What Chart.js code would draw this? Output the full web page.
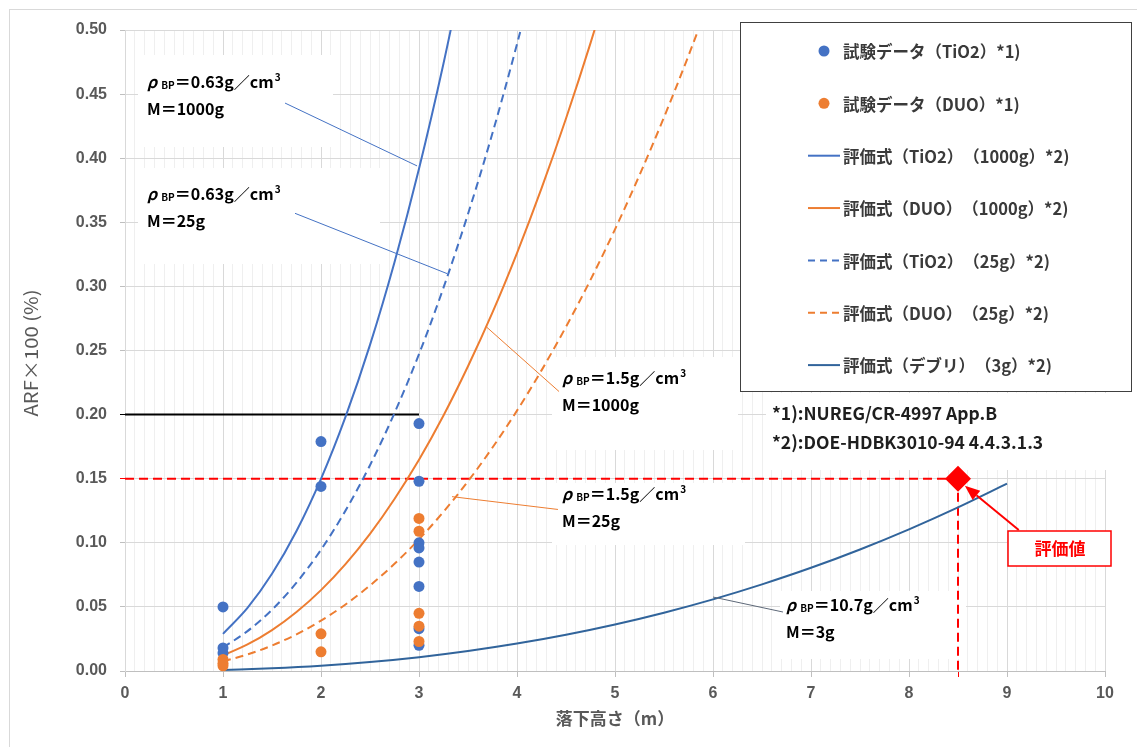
<!DOCTYPE html>
<html><head><meta charset="utf-8">
<script src="https://cdn.jsdelivr.net/npm/chart.js@4"></script>
<style>
html,body{margin:0;padding:0;background:#fff;}
#box{position:relative;width:1137px;height:747px;}
canvas{display:block;}
</style></head>
<body><div id="box"><canvas id="chart" width="1137" height="747"></canvas></div>
<script>
// ---------------- data ----------------
const xTickLabels = ['0','1','2','3','4','5','6','7','8','9','10'];
const yTickLabels = ['0.00','0.05','0.10','0.15','0.20','0.25','0.30','0.35','0.40','0.45','0.50'];

const legendLabels = [
  '試験データ（TiO2）*1)',
  '試験データ（DUO）*1)',
  '評価式（TiO2）（1000g）*2)',
  '評価式（DUO）（1000g）*2)',
  '評価式（TiO2）（25g）*2)',
  '評価式（DUO）（25g）*2)',
  '評価式（デブリ）（3g）*2)'
];

// test data (drop height m, ARF x 100 %)
const tio2TestX = [1, 1, 1, 2, 2, 3, 3, 3, 3, 3, 3, 3, 3];
const tio2TestY = [0.050, 0.018, 0.014, 0.179, 0.144, 0.193, 0.148, 0.100, 0.096, 0.085, 0.066, 0.033, 0.020];
const duoTestX  = [1, 1, 1, 2, 2, 3, 3, 3, 3, 3];
const duoTestY  = [0.009, 0.006, 0.004, 0.029, 0.015, 0.119, 0.109, 0.045, 0.035, 0.023];

// evaluation curves, read at 0.25 m steps from 1 m
const curveH = [1, 1.25, 1.5, 1.75, 2, 2.25, 2.5, 2.75, 3, 3.25, 3.5, 3.75, 4, 4.25, 4.5, 4.75, 5, 5.25, 5.5, 5.75, 6];
const tio2Curve1000 = [0.029, 0.0492, 0.0758, 0.1092, 0.1499, 0.1982, 0.2544, 0.3189, 0.3918, 0.4739, 0.5649];
const duoCurve1000  = [0.0122, 0.0207, 0.0319, 0.0460, 0.0631, 0.0834, 0.1070, 0.1342, 0.1648, 0.1993, 0.2377, 0.2797, 0.3260, 0.3764, 0.4310, 0.4898, 0.5530];
const tio2Curve25   = [0.0183, 0.0311, 0.0478, 0.0689, 0.0946, 0.1251, 0.1605, 0.2012, 0.2472, 0.2990, 0.3565, 0.4196, 0.4890, 0.5646];
const duoCurve25    = [0.0076, 0.0129, 0.0199, 0.0286, 0.0393, 0.0519, 0.0667, 0.0836, 0.1027, 0.1242, 0.1480, 0.1743, 0.2031, 0.2345, 0.2685, 0.3051, 0.3445, 0.3868, 0.4319, 0.4800, 0.5310];
// debris curve (3 g), read at 0.5 m steps
const debrisH = [1, 1.5, 2, 2.5, 3, 3.5, 4, 4.5, 5, 5.5, 6, 6.5, 7, 7.5, 8, 8.5, 9];
const debrisCurve = [0.0008, 0.0021, 0.0041, 0.0070, 0.0108, 0.0156, 0.0214, 0.0283, 0.0363, 0.0455, 0.0559, 0.0676, 0.0805, 0.0948, 0.1105, 0.1276, 0.1461];

// reference lines
const refLineX = [0, 3];
const refLineY = [0.20, 0.20];
const evalHeight = [8.5];
const evalValue = [0.15];

// annotation texts
const annoLabels = [
  {rho: '0.63', mass: '1000g'},
  {rho: '0.63', mass: '25g'},
  {rho: '1.5', mass: '1000g'},
  {rho: '1.5', mass: '25g'},
  {rho: '10.7', mass: '3g'}
];
const footnotes = ['*1):NUREG/CR-4997 App.B', '*2):DOE-HDBK3010-94 4.4.3.1.3'];
const calloutText = '評価値';
const xTitle = '落下高さ（m）';
const yTitle = 'ARF×100 (%)';

// ---------------- styles / layout ----------------
const BLUE = '#4472C4', ORANGE = '#ED7D31', DEBRIS = '#31649B', RED = '#FF0000';
const CJK = "'Noto Sans CJK JP', 'Noto Sans', sans-serif";
const LAT = "'Liberation Sans', Arial, sans-serif";

const pts = (xs, ys) => ys.map((y, i) => ({x: xs[i], y}));
const isInt = v => Math.abs(v - Math.round(v)) < 1e-6;
const near = (a, b) => Math.abs(a - b) < 1e-6;

// label text positions (pixels) and leader lines (data units: from label -> to curve)
const annoPos = [[147, 88], [147, 200], [562, 384], [562, 500], [786, 611]];
const leaders = [
  {from: [1.633, 0.443], to: [2.98, 0.394], color: BLUE},
  {from: [1.735, 0.357], to: [3.286, 0.310], color: BLUE},
  {from: [4.429, 0.218], to: [3.694, 0.268], color: ORANGE},
  {from: [4.418, 0.126], to: [3.337, 0.136], color: ORANGE},
  {from: [6.714, 0.046], to: [6.0, 0.0577], color: '#5d6878'}
];
const whiteBoxes = [
  [138, 55, 195, 92],
  [138, 168, 242, 96],
  [552, 357, 186, 93],
  [552, 483, 193, 62],
  [780, 591, 186, 68],
  [766, 393, 344, 77]
];

function rhoLabel(c, x, y, rho, mass) {
  const big = "bold 16px " + CJK, small = "bold 10px " + CJK;
  c.fillStyle = '#000';
  c.textAlign = 'left';
  c.textBaseline = 'alphabetic';
  let cx = x;
  c.font = "italic " + big; c.fillText('ρ', cx, y); cx += c.measureText('ρ').width + 4;
  c.font = small; c.fillText('BP', cx, y + 1); cx += c.measureText('BP').width;
  c.font = big; const s = '＝' + rho + 'g／cm'; c.fillText(s, cx, y); cx += c.measureText(s).width;
  c.font = small; c.fillText('3', cx + 1, y - 7);
  c.font = big; c.fillText('M＝' + mass, x, y + 27);
}

// draw text piecewise so adjacent full-width brackets keep their full width
function drawUntrimmed(c, text, x, y) {
  const parts = text.split('）（');
  let cx = x;
  parts.forEach((p, i) => {
    let seg = p;
    if (i > 0) seg = '（' + seg;
    if (i < parts.length - 1) seg = seg + '）';
    c.fillText(seg, cx, y);
    cx += c.measureText(seg).width;
  });
}

const overlay = {
  id: 'overlay',
  beforeDatasetsDraw(chart) {
    const c = chart.ctx;
    c.save();
    c.fillStyle = '#fff';
    whiteBoxes.forEach(b => c.fillRect(b[0], b[1], b[2], b[3]));
    c.restore();
  },
  afterDatasetsDraw(chart) {
    const c = chart.ctx, xs = chart.scales.x, ys = chart.scales.y;
    const P = (x, y) => [xs.getPixelForValue(x), ys.getPixelForValue(y)];
    c.save();
    // leader lines
    leaders.forEach(L => {
      const a = P(L.from[0], L.from[1]), b = P(L.to[0], L.to[1]);
      c.strokeStyle = L.color; c.lineWidth = 1; c.setLineDash([]);
      c.beginPath(); c.moveTo(a[0], a[1]); c.lineTo(b[0], b[1]); c.stroke();
    });
    // density / mass labels
    annoLabels.forEach((a, i) => rhoLabel(c, annoPos[i][0], annoPos[i][1], a.rho, a.mass));
    // footnotes
    c.font = "bold 17.5px " + CJK; c.fillStyle = '#1e1e1e'; c.textBaseline = 'middle'; c.textAlign = 'left';
    c.fillText(footnotes[0], 772, 413);
    c.fillText(footnotes[1], 772, 442);
    // legend
    c.fillStyle = '#fff'; c.fillRect(740, 22, 392, 370);
    c.strokeStyle = '#404040'; c.lineWidth = 1; c.strokeRect(740.5, 22.5, 391, 369);
    const items = [
      {type: 'dot', color: BLUE}, {type: 'dot', color: ORANGE},
      {type: 'line', color: BLUE, dash: []}, {type: 'line', color: ORANGE, dash: []},
      {type: 'line', color: BLUE, dash: [7, 5]}, {type: 'line', color: ORANGE, dash: [7, 5]},
      {type: 'line', color: DEBRIS, dash: []}
    ];
    items.forEach((it, i) => {
      const y = 51 + i * 52.35;
      if (it.type === 'dot') {
        c.fillStyle = it.color; c.beginPath(); c.arc(824, y, 5.5, 0, Math.PI * 2); c.fill();
      } else {
        c.strokeStyle = it.color; c.lineWidth = 2; c.setLineDash(it.dash);
        c.beginPath(); c.moveTo(808, y); c.lineTo(840, y); c.stroke(); c.setLineDash([]);
      }
      c.fillStyle = '#3a3a3a'; c.font = "bold 16.5px " + CJK; c.textBaseline = 'middle'; c.textAlign = 'left';
      drawUntrimmed(c, legendLabels[i], 843, y + 1);
    });
    // arrow to evaluation point
    const tip = P(8.57, 0.1445), tail = P(9.12, 0.110);
    const ang = Math.atan2(tip[1] - tail[1], tip[0] - tail[0]);
    const hl = 15, hw = 6;
    const bx = tip[0] - hl * Math.cos(ang), by = tip[1] - hl * Math.sin(ang);
    c.strokeStyle = RED; c.lineWidth = 2;
    c.beginPath(); c.moveTo(tail[0], tail[1]); c.lineTo(bx, by); c.stroke();
    c.fillStyle = RED; c.beginPath();
    c.moveTo(tip[0], tip[1]);
    c.lineTo(bx + hw * Math.sin(ang), by - hw * Math.cos(ang));
    c.lineTo(bx - hw * Math.sin(ang), by + hw * Math.cos(ang));
    c.closePath(); c.fill();
    // callout
    c.fillStyle = '#fff'; c.fillRect(1008, 531, 103, 35);
    c.strokeStyle = RED; c.lineWidth = 1.5; c.strokeRect(1008, 531, 103, 35);
    c.fillStyle = RED; c.font = "bold 17px " + CJK; c.textAlign = 'center'; c.textBaseline = 'middle';
    c.fillText(calloutText, 1060, 549);
    c.restore();
  },
  afterDraw(chart) {
    const c = chart.ctx;
    c.save();
    c.strokeStyle = '#d9d9d9'; c.lineWidth = 1;
    c.strokeRect(9.5, 9.5, 1140, 750);
    c.fillStyle = '#595959';
    c.font = "bold 17px " + CJK; c.textAlign = 'center'; c.textBaseline = 'middle';
    c.fillText(xTitle, (chart.chartArea.left + chart.chartArea.right) / 2, 719);
    c.translate(31, 353); c.rotate(-Math.PI / 2);
    c.font = "18px " + CJK;
    const w = c.measureText(yTitle).width;
    c.scale(127 / w, 1);
    c.fillText(yTitle, 0, 0);
    c.restore();
  }
};

const lineDs = (label, xs, ys, color, dash) => ({
  label, data: pts(xs, ys), showLine: true, borderColor: color, backgroundColor: color,
  borderWidth: 2, borderDash: dash || [], pointRadius: 0, pointHoverRadius: 0,
  cubicInterpolationMode: 'monotone', order: 0
});

new Chart(document.getElementById('chart'), {
  type: 'scatter',
  data: {
    datasets: [
      {label: legendLabels[0], data: pts(tio2TestX, tio2TestY), backgroundColor: BLUE, borderColor: BLUE,
       pointRadius: 5.5, pointHoverRadius: 5.5, borderWidth: 0, showLine: false, clip: false, order: -1},
      {label: legendLabels[1], data: pts(duoTestX, duoTestY), backgroundColor: ORANGE, borderColor: ORANGE,
       pointRadius: 5.5, pointHoverRadius: 5.5, borderWidth: 0, showLine: false, clip: false, order: -2},
      lineDs(legendLabels[2], curveH, tio2Curve1000, BLUE),
      lineDs(legendLabels[3], curveH, duoCurve1000, ORANGE),
      lineDs(legendLabels[4], curveH, tio2Curve25, BLUE, [8, 5]),
      lineDs(legendLabels[5], curveH, duoCurve25, ORANGE, [8, 5]),
      lineDs(legendLabels[6], debrisH, debrisCurve, DEBRIS),
      {label: 'ref', data: pts(refLineX, refLineY), showLine: true, borderColor: '#000', borderWidth: 2, pointRadius: 0, order: 0},
      {label: 'evalH', data: [{x: 0, y: evalValue[0]}, {x: evalHeight[0], y: evalValue[0]}], showLine: true,
       borderColor: RED, borderWidth: 2, borderDash: [9, 5], pointRadius: 0, order: 0},
      {label: 'evalV', data: [{x: evalHeight[0], y: evalValue[0]}, {x: evalHeight[0], y: 0}], showLine: true,
       borderColor: RED, borderWidth: 2, borderDash: [9, 5], pointRadius: 0, order: 0},
      {label: 'eval', data: pts(evalHeight, evalValue), pointStyle: 'rectRot', pointRadius: 13, pointHoverRadius: 13,
       backgroundColor: RED, borderColor: RED, borderWidth: 0, showLine: false, clip: false, order: -3}
    ]
  },
  options: {
    responsive: false,
    animation: false,
    layout: {padding: {left: 0, right: 32, top: 30, bottom: 0}},
    plugins: {legend: {display: false}, tooltip: {enabled: false}},
    scales: {
      x: {
        type: 'linear', min: 0, max: 10,
        afterFit: s => { s.height = 76; },
        ticks: {
          stepSize: 0.1, autoSkip: false, maxRotation: 0, padding: 7,
          color: '#595959', font: {family: LAT, size: 16, weight: 'bold'},
          callback: v => isInt(v) ? xTickLabels[Math.round(v)] : ''
        },
        grid: {
          color: c => isInt(c.tick.value) ? '#d9d9d9' : '#efefef',
          lineWidth: 1, tickLength: 6,
          tickColor: c => near(c.tick.value, 8.5) ? RED : (isInt(c.tick.value) ? '#bfbfbf' : 'rgba(0,0,0,0)')
        },
        border: {color: '#bfbfbf', width: 1}
      },
      y: {
        type: 'linear', min: 0, max: 0.5,
        afterFit: s => { s.width = 125; },
        ticks: {
          stepSize: 0.05, padding: 13, color: '#595959', font: {family: LAT, size: 16, weight: 'bold'},
          callback: v => yTickLabels[Math.round(v / 0.05)]
        },
        grid: {
          color: '#d9d9d9', lineWidth: 1, tickLength: 5,
          tickColor: c => near(c.tick.value, 0.2) ? '#000' : (near(c.tick.value, 0.15) ? RED : '#bfbfbf')
        },
        border: {color: '#d9d9d9', width: 1}
      }
    }
  },
  plugins: [overlay]
});
</script>
</body></html>
